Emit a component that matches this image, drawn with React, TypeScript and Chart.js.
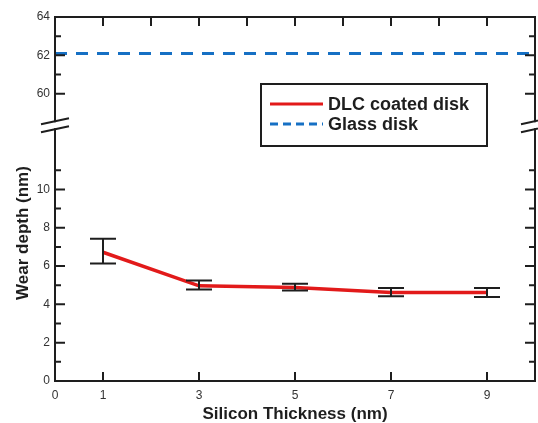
import React, { useEffect, useRef } from "react";
import { Chart, registerables } from "chart.js";

Chart.register(...registerables);

// ---- data ----
const siliconThickness = [1, 3, 5, 7, 9];
const dlcDepth = [6.72, 4.97, 4.88, 4.62, 4.62];
const dlcErrHigh = [7.42, 5.24, 5.08, 4.85, 4.85];
const dlcErrLow = [6.13, 4.78, 4.73, 4.43, 4.38];
const glassX = [0, 10];
const glassDepth = [62.1, 62.1];
const xTickValues = [0, 1, 3, 5, 7, 9];
const yTickLabels = [0, 2, 4, 6, 8, 10, 60, 62, 64];
const yLowerMinor = [0, 1, 2, 3, 4, 5, 6, 7, 8, 9, 10, 11];
const yUpperMinor = [60, 61, 62, 63, 64];
const xTopTicks = [1, 2, 3, 4, 5, 6, 7, 8, 9];
const xBottomTicks = [1, 3, 5, 7, 9];

// broken axis: values above BREAK_HIGH are shifted down to sit just above BREAK_LOW
const BREAK_LOW = 13;
const BREAK_HIGH = 58;
const OFFSET = BREAK_HIGH - BREAK_LOW;
const toAxis = (v: number) => (v <= BREAK_LOW ? v : v - OFFSET);
const fromAxis = (a: number) => (a <= BREAK_LOW ? a : a + OFFSET);

const FONT = "'Liberation Sans', Arial, sans-serif";
const RED = "#e21a1a";
const BLUE = "#1670c4";
const INK = "#1e1e1e";

const decorPlugin = {
  id: "decor",
  afterDatasetsDraw(chart: any) {
    const { ctx, chartArea: ca, scales } = chart;
    const xs = scales.x;
    const ys = scales.y;
    ctx.save();

    // error bars
    ctx.strokeStyle = INK;
    ctx.lineWidth = 2;
    siliconThickness.forEach((xv, i) => {
      const px = xs.getPixelForValue(xv);
      const top = ys.getPixelForValue(toAxis(dlcErrHigh[i]));
      const bot = ys.getPixelForValue(toAxis(dlcErrLow[i]));
      ctx.beginPath();
      ctx.moveTo(px, top);
      ctx.lineTo(px, bot);
      ctx.moveTo(px - 13, top);
      ctx.lineTo(px + 13, top);
      ctx.moveTo(px - 13, bot);
      ctx.lineTo(px + 13, bot);
      ctx.stroke();
    });

    // frame
    ctx.strokeStyle = INK;
    ctx.lineWidth = 2;
    ctx.strokeRect(ca.left, ca.top, ca.right - ca.left, ca.bottom - ca.top);

    // ticks
    ctx.lineWidth = 2;
    ctx.beginPath();
    const yAll = [...yLowerMinor, ...yUpperMinor];
    yAll.forEach((v) => {
      const py = ys.getPixelForValue(toAxis(v));
      const len = v % 2 === 0 ? 10 : 6;
      ctx.moveTo(ca.left, py);
      ctx.lineTo(ca.left + len, py);
      ctx.moveTo(ca.right, py);
      ctx.lineTo(ca.right - len, py);
    });
    xTopTicks.forEach((v) => {
      const px = xs.getPixelForValue(v);
      ctx.moveTo(px, ca.top);
      ctx.lineTo(px, ca.top + 9);
    });
    xBottomTicks.forEach((v) => {
      const px = xs.getPixelForValue(v);
      ctx.moveTo(px, ca.bottom);
      ctx.lineTo(px, ca.bottom - 9);
    });
    ctx.stroke();

    // axis break marks
    const by = ys.getPixelForValue(13.35);
    [ca.left, ca.right].forEach((ax) => {
      ctx.fillStyle = "#ffffff";
      ctx.fillRect(ax - 3, by - 3, 6, 6);
      ctx.strokeStyle = INK;
      ctx.lineWidth = 2;
      ctx.beginPath();
      ctx.moveTo(ax - 14, by - 1);
      ctx.lineTo(ax + 14, by - 7);
      ctx.moveTo(ax - 14, by + 7);
      ctx.lineTo(ax + 14, by + 1);
      ctx.stroke();
    });

    // legend
    const lx = 261, ly = 84, lw = 226, lh = 62;
    ctx.fillStyle = "#ffffff";
    ctx.fillRect(lx, ly, lw, lh);
    ctx.strokeStyle = INK;
    ctx.lineWidth = 2;
    ctx.strokeRect(lx, ly, lw, lh);
    const ds = chart.data.datasets;
    const rows = [104, 124];
    ds.forEach((d: any, i: number) => {
      const ry = rows[i];
      ctx.strokeStyle = d.borderColor;
      ctx.lineWidth = 3;
      ctx.setLineDash(i === 1 ? [8, 5] : []);
      ctx.beginPath();
      ctx.moveTo(270, ry);
      ctx.lineTo(323, ry);
      ctx.stroke();
      ctx.setLineDash([]);
      ctx.fillStyle = INK;
      ctx.font = `bold 18px ${FONT}`;
      ctx.textAlign = "left";
      ctx.textBaseline = "middle";
      ctx.fillText(d.label, 328, ry + 1);
    });

    // axis titles
    ctx.fillStyle = INK;
    ctx.font = `bold 17px ${FONT}`;
    ctx.textAlign = "center";
    ctx.textBaseline = "middle";
    ctx.fillText("Silicon Thickness (nm)", (ca.left + ca.right) / 2, 414);
    ctx.save();
    ctx.translate(23, 233);
    ctx.rotate(-Math.PI / 2);
    ctx.fillText("Wear depth (nm)", 0, 0);
    ctx.restore();

    ctx.restore();
  },
};

export default function App() {
  const ref = useRef<HTMLCanvasElement | null>(null);

  useEffect(() => {
    if (!ref.current) return;
    const chart = new Chart(ref.current, {
      type: "line",
      data: {
        datasets: [
          {
            label: "DLC coated disk",
            data: siliconThickness.map((x, i) => ({ x, y: toAxis(dlcDepth[i]) })),
            borderColor: RED,
            backgroundColor: RED,
            borderWidth: 3.5,
            pointRadius: 0,
            tension: 0,
          },
          {
            label: "Glass disk",
            data: glassX.map((x, i) => ({ x, y: toAxis(glassDepth[i]) })),
            borderColor: BLUE,
            backgroundColor: BLUE,
            borderWidth: 3,
            borderDash: [12, 9],
            pointRadius: 0,
          },
        ],
      },
      options: {
        responsive: false,
        animation: false,
        devicePixelRatio: 1,
        layout: { padding: { top: 17, right: 3, left: 0, bottom: 0 } },
        plugins: {
          legend: { display: false },
          tooltip: { enabled: false },
        },
        scales: {
          x: {
            type: "linear",
            min: 0,
            max: 10,
            grid: { display: false, drawTicks: false },
            border: { display: false },
            afterBuildTicks: (s: any) => {
              s.ticks = xTickValues.map((v) => ({ value: v }));
            },
            afterFit: (s: any) => {
              s.height = 42;
            },
            ticks: {
              padding: 7,
              maxRotation: 0,
              autoSkip: false,
              color: "#333",
              font: { family: FONT, size: 12 },
              callback: (v: any) => String(v),
            },
          },
          y: {
            type: "linear",
            min: 0,
            max: toAxis(64),
            grid: { display: false, drawTicks: false },
            border: { display: false },
            afterBuildTicks: (s: any) => {
              s.ticks = yTickLabels.map((v) => ({ value: toAxis(v) }));
            },
            afterFit: (s: any) => {
              s.width = 55;
            },
            ticks: {
              padding: 5,
              autoSkip: false,
              color: "#333",
              font: { family: FONT, size: 12 },
              callback: (v: any) => String(Math.round(fromAxis(Number(v)))),
            },
          },
        },
      },
      plugins: [decorPlugin],
    });
    return () => chart.destroy();
  }, []);

  return (
    <div style={{ position: "fixed", left: 0, top: 0, width: 538, height: 423, background: "#fff" }}>
      <canvas ref={ref} width={538} height={423} />
    </div>
  );
}
